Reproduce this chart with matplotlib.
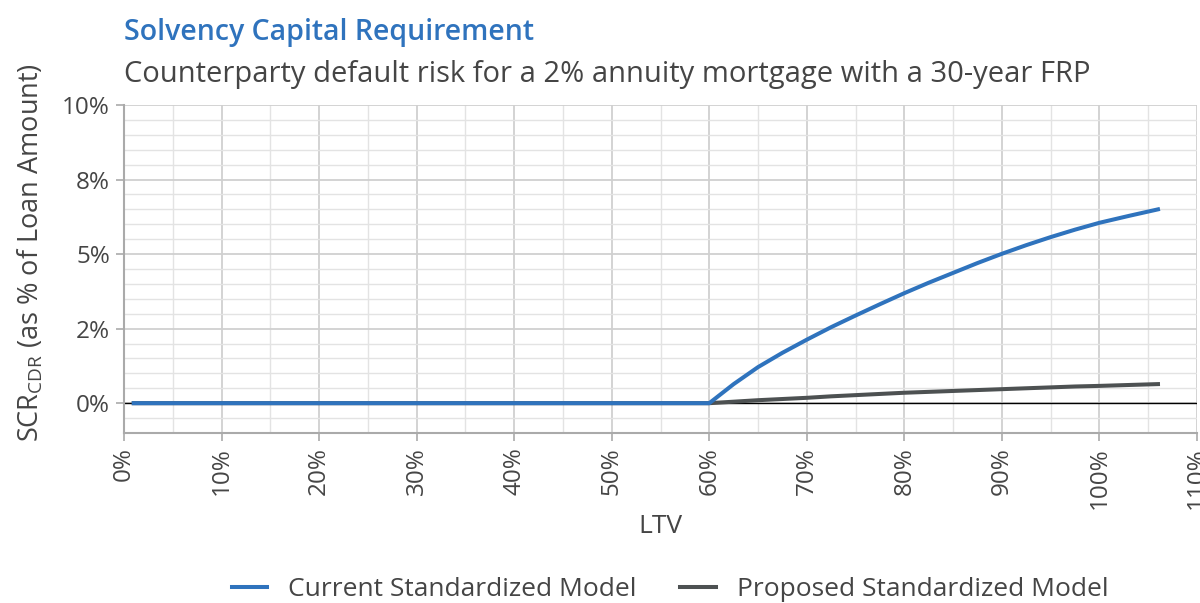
import numpy as np
import matplotlib.pyplot as plt
from matplotlib.ticker import MultipleLocator

# Dane
ltv = [1, 60, 62.5, 65, 67.5, 70, 72.5, 75, 77.5, 80, 82.5, 85, 87.5, 90, 92.5, 95, 97.5, 100, 103, 106]
scr_current = [0.0, 0.0, 0.64, 1.21, 1.69, 2.13, 2.55, 2.94, 3.32, 3.69, 4.04, 4.37, 4.70, 5.01, 5.30, 5.57, 5.82, 6.05, 6.28, 6.50]
scr_proposed = [0.0, 0.0, 0.05, 0.10, 0.14, 0.18, 0.23, 0.27, 0.31, 0.35, 0.38, 0.41, 0.44, 0.47, 0.50, 0.53, 0.56, 0.58, 0.61, 0.64]

x_ticks = [0, 10, 20, 30, 40, 50, 60, 70, 80, 90, 100, 110]
x_labels = ["0%", "10%", "20%", "30%", "40%", "50%", "60%", "70%", "80%", "90%", "100%", "110%"]
y_ticks = [0, 2.5, 5, 7.5, 10]
y_labels = ["0%", "2%", "5%", "8%", "10%"]

plt.rcParams['font.family'] = ['Open Sans', 'DejaVu Sans']
plt.rcParams['mathtext.default'] = 'regular'

BLUE = '#2f73bd'
GREY = '#4d5152'
TXT = '#454545'

fig = plt.figure(figsize=(12, 6.03), dpi=100)
ax = fig.add_axes([124 / 1200, 1 - 433 / 603, (1197 - 124) / 1200, (433 - 105) / 603])

ax.axhline(0, color='black', lw=1, zorder=2)
ax.plot(ltv, scr_current, color=BLUE, lw=2.9, label='Current Standardized Model', zorder=4)
ax.plot(ltv, scr_proposed, color=GREY, lw=2.9, label='Proposed Standardized Model', zorder=3)

ax.set_xlim(0, 110)
ax.set_ylim(-1, 10)
ax.set_xticks(x_ticks)
ax.set_xticklabels(x_labels, rotation=90)
ax.set_yticks(y_ticks)
ax.set_yticklabels(y_labels)
ax.xaxis.set_minor_locator(MultipleLocator(5))
ax.yaxis.set_minor_locator(MultipleLocator(0.5))

ax.grid(True, which='major', color='#d0d0d0', lw=1.3)
ax.grid(True, which='minor', color='#e3e3e3', lw=1.0)
ax.set_axisbelow(True)

for s in ['top', 'right']:
    ax.spines[s].set_visible(False)
for s in ['left', 'bottom']:
    ax.spines[s].set_color('#aaaaaa')
    ax.spines[s].set_linewidth(1.5)

ax.tick_params(which='major', length=6, color='#aaaaaa', width=1.2, labelsize=17.5, labelcolor=TXT, pad=4)
ax.tick_params(which='minor', length=0)

ax.set_xlabel('LTV', fontsize=19, color=TXT, labelpad=4)
ax.set_ylabel('SCR$_{CDR}$ (as % of Loan Amount)', fontsize=19.5, color=TXT)
ax.yaxis.set_label_coords(-0.073, 0.55)

fig.text(124 / 1200, 1 - 40 / 603, 'Solvency Capital Requirement', fontsize=20.5, color=BLUE,
         fontweight='semibold', ha='left', va='baseline')
fig.text(124 / 1200, 1 - 82 / 603, 'Counterparty default risk for a 2% annuity mortgage with a 30-year FRP',
         fontsize=21, color=TXT, ha='left', va='baseline')

fig.legend(loc='center', bbox_to_anchor=(670 / 1200, 1 - 590 / 603), ncol=2, frameon=False,
           fontsize=19, labelcolor=TXT, handlelength=1.33, columnspacing=1.67, handletextpad=0.8)

plt.savefig('out.png', dpi=100)
